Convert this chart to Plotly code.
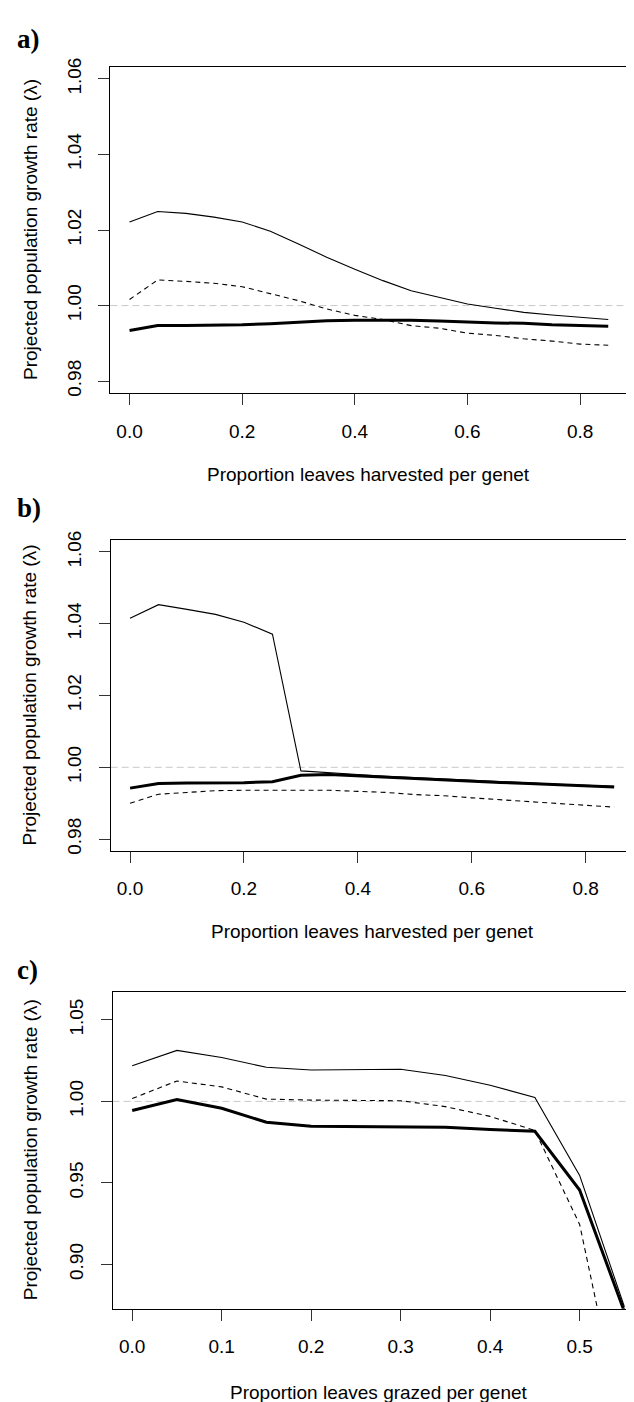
import plotly.graph_objects as go

# ---------------- data ----------------
x_harvest = [0.0, 0.05, 0.10, 0.15, 0.20, 0.25, 0.30, 0.35, 0.40, 0.45,
             0.50, 0.55, 0.60, 0.65, 0.70, 0.75, 0.80, 0.85]
x_graze = [0.0, 0.05, 0.10, 0.15, 0.20, 0.25, 0.30, 0.35, 0.40, 0.45, 0.50, 0.55]

# panel a
a_mean = [0.9934, 0.9947, 0.9947, 0.9947, 0.9949, 0.9952, 0.9956, 0.9960, 0.9961,
          0.9961, 0.9961, 0.9959, 0.9956, 0.9954, 0.9953, 0.9949, 0.9947, 0.9945]
a_upper = [1.0221, 1.0249, 1.0244, 1.0234, 1.0221, 1.0197, 1.0163, 1.0128, 1.0096,
           1.0066, 1.0039, 1.0022, 1.0004, 0.9993, 0.9982, 0.9975, 0.9969, 0.9963]
a_lower = [1.0016, 1.0068, 1.0064, 1.0059, 1.0050, 1.0031, 1.0013, 0.9991, 0.9974,
           0.9963, 0.9947, 0.9940, 0.9927, 0.9921, 0.9912, 0.9906, 0.9898, 0.9895]

# panel b
b_mean = [0.9942, 0.9955, 0.9956, 0.9956, 0.9957, 0.9960, 0.9978, 0.9980, 0.9976,
          0.9973, 0.9969, 0.9965, 0.9962, 0.9958, 0.9955, 0.9952, 0.9948, 0.9945]
b_upper = [1.0415, 1.0453, 1.0440, 1.0426, 1.0404, 1.0371, 0.9990, 0.9986, 0.9980,
           0.9975, 0.9971, 0.9967, 0.9963, 0.9960, 0.9957, 0.9953, 0.9950, 0.9947]
b_lower = [0.9900, 0.9925, 0.9930, 0.9935, 0.9936, 0.9936, 0.9936, 0.9936, 0.9933,
           0.9930, 0.9924, 0.9921, 0.9915, 0.9910, 0.9905, 0.9898, 0.9894, 0.9889]

# panel c
c_mean = [0.9944, 1.0012, 0.9958, 0.9872, 0.9848, 0.9846, 0.9846, 0.9842, 0.9828,
          0.9817, 0.9456, 0.8710]
c_upper = [1.0219, 1.0313, 1.0269, 1.0209, 1.0193, 1.0197, 1.0197, 1.0159, 1.0099,
           1.0024, 0.9546, 0.8740]
c_lower = [1.0018, 1.0125, 1.0089, 1.0014, 1.0008, 1.0008, 1.0004, 0.9968, 0.9908,
           0.9822, 0.9245, 0.7950]

ab_yticks = [0.98, 1.00, 1.02, 1.04, 1.06]
ab_yticklabels = ["0.98", "1.00", "1.02", "1.04", "1.06"]
c_yticks = [0.90, 0.95, 1.00, 1.05]
c_yticklabels = ["0.90", "0.95", "1.00", "1.05"]
ab_xticks = [0.0, 0.2, 0.4, 0.6, 0.8]
ab_xticklabels = ["0.0", "0.2", "0.4", "0.6", "0.8"]
c_xticks = [0.0, 0.1, 0.2, 0.3, 0.4, 0.5]
c_xticklabels = ["0.0", "0.1", "0.2", "0.3", "0.4", "0.5"]

panel_labels = ["a)", "b)", "c)"]
xtitles = ["Proportion leaves harvested per genet",
           "Proportion leaves harvested per genet",
           "Proportion leaves grazed per genet"]
ytitle = "Projected population growth rate (\u03bb)"

# ---------------- layout geometry ----------------
W, H = 634, 1402
FONT = "Liberation Sans, Arial, sans-serif"
FS = 19

panels = [
    dict(x=x_harvest, mean=a_mean, up=a_upper, lo=a_lower,
         xdom=(102.4, 619.4), ydom=(49.3, 379.0),
         xr=[-0.034, 0.884], yr=[0.9768, 1.0632],
         xt=ab_xticks, xtl=ab_xticklabels, yt=ab_yticks, ytl=ab_yticklabels,
         label_y=21, xtitle_y=461, right_line=True),
    dict(x=x_harvest, mean=b_mean, up=b_upper, lo=b_lower,
         xdom=(102.7, 625.5), ydom=(527.7, 841.0),
         xr=[-0.034, 0.884], yr=[0.9768, 1.0632],
         xt=ab_xticks, xtl=ab_xticklabels, yt=ab_yticks, ytl=ab_yticklabels,
         label_y=495, xtitle_y=923, right_line=True),
    dict(x=x_graze, mean=c_mean, up=c_upper, lo=c_lower,
         xdom=(104.5, 634.0), ydom=(983.7, 1303.7),
         xr=[-0.022, 0.5697], yr=[0.8728, 1.0672],
         xt=c_xticks, xtl=c_xticklabels, yt=c_yticks, ytl=c_yticklabels,
         label_y=962, xtitle_y=1388, right_line=False),
]

fig = go.Figure()
layout = dict(width=W, height=H, autosize=False,
              margin=dict(l=0, r=0, t=0, b=0),
              paper_bgcolor="white", plot_bgcolor="white",
              showlegend=False, font=dict(family=FONT, size=FS, color="black"))
annotations = []
shapes = []

for i, p in enumerate(panels):
    n = "" if i == 0 else str(i + 1)
    xa, ya = "x" + n, "y" + n
    xd = [p["xdom"][0] / W, p["xdom"][1] / W]
    yd = [1 - p["ydom"][1] / H, 1 - p["ydom"][0] / H]

    fig.add_trace(go.Scatter(x=p["x"], y=p["lo"], mode="lines", xaxis=xa, yaxis=ya,
                             line=dict(color="black", width=1.1, dash="5px,4px")))
    fig.add_trace(go.Scatter(x=p["x"], y=p["up"], mode="lines", xaxis=xa, yaxis=ya,
                             line=dict(color="black", width=1.1)))
    fig.add_trace(go.Scatter(x=p["x"], y=p["mean"], mode="lines", xaxis=xa, yaxis=ya,
                             line=dict(color="black", width=3)))

    layout["xaxis" + n] = dict(domain=xd, range=p["xr"], anchor=ya,
                               showgrid=False, zeroline=False,
                               showline=True, linecolor="black", linewidth=1,
                               mirror=True, ticks="outside", ticklen=11,
                               tickwidth=1, tickcolor="#333333",
                               tickvals=p["xt"], ticktext=p["xtl"],
                               ticklabelstandoff=10,
                               tickfont=dict(family=FONT, size=FS, color="black"))
    layout["yaxis" + n] = dict(domain=yd, range=p["yr"], anchor=xa,
                               showgrid=False, zeroline=False,
                               showline=True, linecolor="black", linewidth=1,
                               mirror=p["right_line"], ticks="outside", ticklen=11,
                               tickwidth=1, tickcolor="#333333",
                               tickvals=p["yt"], ticktext=p["ytl"],
                               tickangle=-90, ticklabelstandoff=10,
                               tickfont=dict(family=FONT, size=FS, color="black"))

    shapes.append(dict(type="line", xref=xa + " domain", yref=ya,
                       x0=0, x1=1, y0=1.0, y1=1.0, layer="below",
                       line=dict(color="#c8c8c8", width=1, dash="7px,4px")))

    annotations.append(dict(text="<b>" + panel_labels[i] + "</b>", xref="paper", yref="paper",
                            x=7 / W, y=1 - p["label_y"] / H, xanchor="left", yanchor="middle",
                            showarrow=False,
                            font=dict(family="Liberation Serif, Times New Roman, serif",
                                      size=27, color="black")))
    annotations.append(dict(text=xtitles[i], xref="paper", yref="paper",
                            x=(p["xdom"][0] + min(p["xdom"][1], 636)) / 2 / W + (0.002 if i == 2 else 0),
                            y=1 - p["xtitle_y"] / H, xanchor="center", yanchor="middle",
                            showarrow=False, font=dict(family=FONT, size=FS, color="black")))
    annotations.append(dict(text=ytitle, xref="paper", yref="paper", textangle=-90,
                            x=22 / W, y=1 - (p["ydom"][0] + p["ydom"][1]) / 2 / H,
                            xanchor="center", yanchor="middle", showarrow=False,
                            font=dict(family=FONT, size=FS, color="black")))

layout["annotations"] = annotations
layout["shapes"] = shapes
fig.update_layout(**layout)
fig.write_html("out.html")
